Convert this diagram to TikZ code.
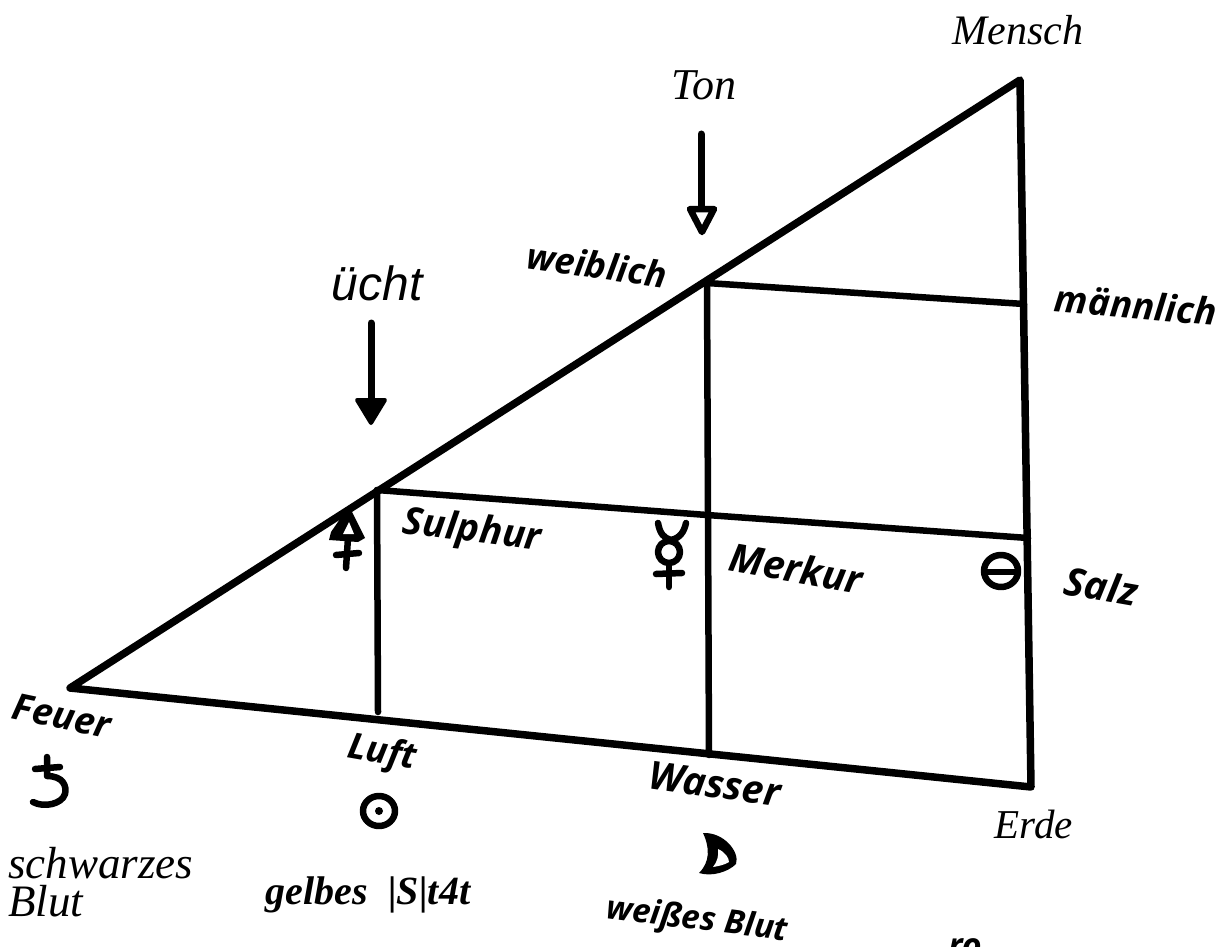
\documentclass[tikz,border=0pt]{standalone}
\usepackage{fontspec}
\setmainfont{Liberation Serif}
\setsansfont{Liberation Sans}
\newfontfamily\handfont{Open Sans}
\tikzset{
  outer/.style={line width=7.5pt,line cap=round,line join=round},
  inner/.style={line width=6.5pt,line cap=round,line join=round},
  symb/.style={line width=6.5pt,line cap=round,line join=round},
  hand/.style={inner sep=0pt,font=\handfont\bfseries\itshape\fontsize{#1}{#1}\selectfont},
  print/.style={inner sep=0pt,font=\itshape\fontsize{#1}{#1}\selectfont},
  arrowline/.style={line width=7pt,line cap=round}
}
\begin{document}
\begin{tikzpicture}[x=1pt,y=-1pt]
\useasboundingbox (0,0) rectangle (1228,947);
\clip (0,0) rectangle (1228,947);
% frame points
\coordinate (feuer) at (70,688);
\coordinate (mensch) at (1020,80);
\coordinate (erde) at (1031,787);
\coordinate (p1) at (377,490);
\coordinate (p2) at (707,283);
\coordinate (luftp) at (378,712);
\coordinate (wasserp) at (709,755);
\coordinate (m1) at (1024,304);
\coordinate (s1) at (1028,538);
\coordinate (cross) at (707,515);
\coordinate (t1) at (701,134);
\coordinate (t2) at (701,208);
\coordinate (u1) at (371,323);
\coordinate (u2) at (371,400);
% triangle
\draw[outer] (feuer) -- (mensch) -- (erde) -- (feuer);
% inner lines
\draw[inner] (p2) -- (m1);
\draw[inner] (p2) -- (wasserp);
\draw[inner] (p1) -- (luftp);
\draw[inner] (p1) -- (cross) -- (s1);
% arrows
\draw[arrowline] (t1) -- (t2);
\draw[line width=6.5pt,line join=round] (690,209) -- (714,209) -- (702,232) -- cycle;
\draw[arrowline] (u1) -- (u2);
\fill[draw,line width=4pt,line join=round] (357,400) -- (385,400) -- (371,423) -- cycle;
% printed labels
\node[print=42] (lmensch) at (1018,30) {Mensch};
\node[print=44] (lton) at (704,85) {Ton};
\node[inner sep=0pt,font=\sffamily\itshape\fontsize{48}{48}\selectfont] (lucht) at (377,283) {ücht};
\node[print=41] (lerde) at (1034,824) {Erde};
\node[align=left,anchor=north west,inner sep=0pt,font=\itshape\fontsize{45}{38}\selectfont] (lschw) at (8,847) {schwarzes\\Blut};
\node[inner sep=0pt,font=\bfseries\itshape\fontsize{40}{40}\selectfont] (lgelb) at (368,895) {gelbes\ \ |S|t4t};
% handwritten labels
\node[hand=36,rotate=-8] (lweib) at (597,265) {weiblich};
\node[hand=37,rotate=-5] (lmann) at (1136,305) {männlich};
\node[hand=38,rotate=-7] (lsul) at (472,532) {Sulphur};
\node[hand=39,rotate=-10] (lmer) at (796,568) {Merkur};
\node[hand=39,rotate=-10] (lsalz) at (1101,586) {Salz};
\node[hand=37,rotate=-12] (lfeu) at (62,716) {Feuer};
\node[hand=36,rotate=-10] (lluft) at (382,754) {Luft};
\node[hand=39,rotate=-8] (lwass) at (715,784) {Wasser};
\node[hand=33,rotate=-7] (lweis) at (697,921) {weißes Blut};
\node[hand=34] (lro) at (965,948) {ro};
% Saturn
\draw[symb] (47,757) -- (47,776) .. controls (63,776) and (67,786) .. (65,794) .. controls (62,804) and (44,808) .. (33,802);
\draw[symb] (35,769) -- (60,767);
% Sun
\draw[symb] (379,811) ellipse (16 and 15);
\fill (379,811) circle (4);
% Moon
\fill (703,833) .. controls (724,832) and (740,852) .. (736,864) .. controls (728,872) and (712,877) .. (699,873) .. controls (710,862) and (710,848) .. (703,833) -- cycle;
\fill[white] (718,849) .. controls (725,852) and (729,858) .. (729,862) .. controls (724,865) and (719,866) .. (713,867) .. controls (717,862) and (719,856) .. (718,849) -- cycle;
% Jupiter
\fill (349,506) -- (365,538) -- (358,542) -- (329,540) -- (331,532) -- cycle;
\fill[white] (349,522) -- (354,534) -- (343,534) -- cycle;
\draw[symb] (348,538) -- (346,568);
\draw[symb] (336,555) -- (359,553);
% Mercury
\draw[symb] (658,523) .. controls (660,534) and (664,538) .. (671,540) .. controls (680,538) and (684,532) .. (686,523);
\draw[symb] (669,552) ellipse (11 and 11);
\draw[symb] (669,566) -- (669,587);
\draw[symb] (656,574) -- (682,573);
% Salt
\draw[symb] (1001,571) ellipse (17 and 16);
\draw[symb] (986,572) -- (1016,572);
\end{tikzpicture}
\end{document}
